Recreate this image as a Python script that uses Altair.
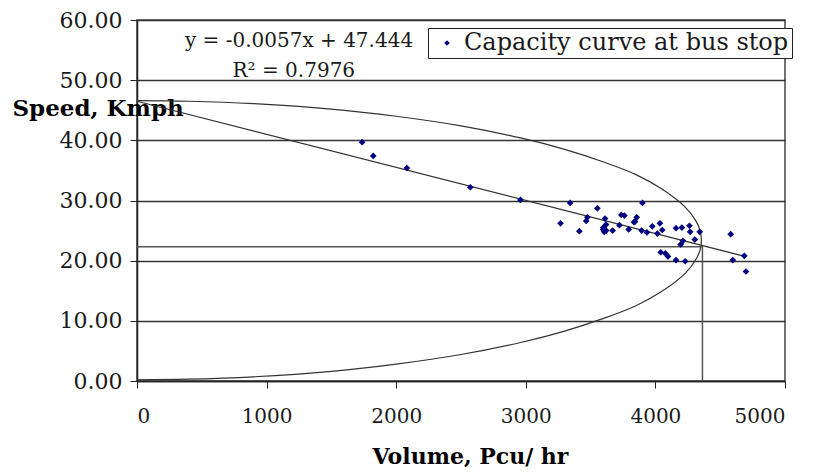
import altair as alt
import pandas as pd

# ---- data ----
volume = [1737, 1823, 2083, 2572, 2959, 3268, 3342, 3413, 3466, 3475, 3552,
          3596, 3605, 3611, 3619, 3598, 3620, 3670, 3723, 3737, 3761, 3794,
          3835, 3856, 3843, 3900, 3894, 3935, 3976, 4015, 4035, 4053, 4041,
          4077, 4097, 4159, 4159, 4204, 4195, 4212, 4230, 4263, 4268, 4304,
          4342, 4581, 4597, 4686, 4699]
speed = [39.7, 37.4, 35.4, 32.2, 30.1, 26.2, 29.6, 24.9, 26.6, 27.2, 28.7,
         25.2, 24.8, 27.0, 26.0, 25.5, 25.0, 25.0, 25.9, 27.6, 27.5, 25.2,
         26.4, 27.2, 26.5, 29.6, 25.0, 24.7, 25.7, 24.5, 26.2, 25.1, 21.4,
         21.2, 20.7, 20.1, 25.4, 25.5, 22.7, 23.3, 19.9, 25.8, 24.8, 23.5,
         24.8, 24.4, 20.1, 20.8, 18.2]

# fitted speed-volume line (end points as drawn)
reg_volume = [0, 4690]
reg_speed = [46.5, 20.7]

# capacity curve as drawn (points read along the arc, top to bottom)
curve_volume = [0, 400, 900, 1500, 2000, 2500, 2960, 3300, 3600, 3850, 4050,
                4230, 4310, 4345, 4355, 4345, 4310, 4230, 4050, 3850, 3600,
                3300, 2960, 2500, 2000, 1500, 900, 400, 0]
curve_speed = [46.6, 46.5, 46.1, 45.2, 44.0, 42.4, 40.4, 38.5, 36.4, 34.3, 31.9,
               28.9, 26.7, 25.0, 23.4, 21.8, 20.1, 17.9, 14.9, 12.5, 10.4,
               8.3, 6.4, 4.4, 2.8, 1.6, 0.7, 0.3, 0.2]

# capacity / critical speed markers
cap_volume = [0, 4363, 4363]
cap_speed = [22.3, 22.3, 0]

series_name = "Capacity curve at bus stop"
eq_lines = ["y = -0.0057x + 47.444", "R² = 0.7976"]
eq_x = [1250, 1210]
eq_y = [56.5, 51.5]

x_ticks = [0, 1000, 2000, 3000, 4000, 5000]
y_ticks = [0, 10, 20, 30, 40, 50, 60]

SERIF = "DejaVu Serif"
LINE = "#333333"

pts = pd.DataFrame({"x": volume, "y": speed, "s": [series_name] * len(volume)})
reg = pd.DataFrame({"x": reg_volume, "y": reg_speed, "i": range(len(reg_volume))})
cur = pd.DataFrame({"x": curve_volume, "y": curve_speed, "i": range(len(curve_volume))})
cap = pd.DataFrame({"x": cap_volume, "y": cap_speed, "i": range(len(cap_volume))})
eq = pd.DataFrame({"x": eq_x, "y": eq_y, "t": eq_lines})

x_axis = alt.Axis(values=x_ticks, format="d", grid=False, tickSize=7,
                  tickColor="#222", domainColor="#222", domainWidth=1.5,
                  labelFont=SERIF, labelFontSize=20, labelColor="#1a1a1a",
                  labelPadding=18, title="Volume, Pcu/ hr", titleFont=SERIF,
                  titleFontSize=22, titleFontWeight="bold", titleColor="black",
                  titleX=333, titleY=82, titleAlign="center",
                  titleBaseline="alphabetic")
y_axis = alt.Axis(values=y_ticks, format=".2f", grid=True, gridColor=LINE,
                  gridWidth=1.5, tickSize=7, tickColor="#222",
                  domainColor="#222", domainWidth=1.5, labelFont=SERIF,
                  labelFontSize=22, labelColor="#1a1a1a", labelPadding=8,
                  title="Speed, Kmph", titleFont=SERIF, titleFontSize=23,
                  titleFontWeight="bold", titleColor="black", titleAngle=0,
                  titleX=-125, titleY=95, titleAlign="left",
                  titleBaseline="alphabetic")

X = alt.X("x:Q", scale=alt.Scale(domain=[0, 5000], nice=False, zero=False), axis=x_axis)
Y = alt.Y("y:Q", scale=alt.Scale(domain=[0, 60], nice=False), axis=y_axis)

curve_layer = alt.Chart(cur).mark_line(color=LINE, strokeWidth=1.2,
                                       interpolate="catmull-rom").encode(
    x=X, y=Y, order=alt.Order("i:Q"))
reg_layer = alt.Chart(reg).mark_line(color=LINE, strokeWidth=1.2).encode(
    x=X, y=Y, order=alt.Order("i:Q"))
cap_layer = alt.Chart(cap).mark_line(color="#555555", strokeWidth=1.5).encode(
    x=X, y=Y, order=alt.Order("i:Q"))
pt_layer = alt.Chart(pts).mark_point(shape="diamond", filled=True, size=45,
                                     opacity=1).encode(
    x=X, y=Y,
    color=alt.Color("s:N", scale=alt.Scale(domain=[series_name], range=["#000080"]),
                    legend=alt.Legend(title=None, orient="none", legendX=291,
                                      legendY=8, strokeColor="#222",
                                      fillColor="white", padding=3,
                                      symbolType="diamond", symbolSize=30,
                                      symbolOffset=4, labelOffset=5,
                                      labelFont=SERIF, labelFontSize=24,
                                      labelColor="#1a1a1a", labelLimit=400)))
txt_layer = alt.Chart(eq).mark_text(font=SERIF, fontSize=20, color="#1a1a1a",
                                    align="center", baseline="middle").encode(
    x=X, y=Y, text="t:N")

chart = alt.layer(curve_layer, reg_layer, cap_layer, pt_layer, txt_layer).properties(
    width=648, height=361,
    autosize=alt.AutoSizeParams(type="none"),
    padding={"left": 129, "top": 12, "right": 28, "bottom": 87},
    background="white",
).configure_view(stroke="#444444", strokeWidth=1.5)

chart.save("out.html", embed_options={"renderer": "svg", "actions": False})
